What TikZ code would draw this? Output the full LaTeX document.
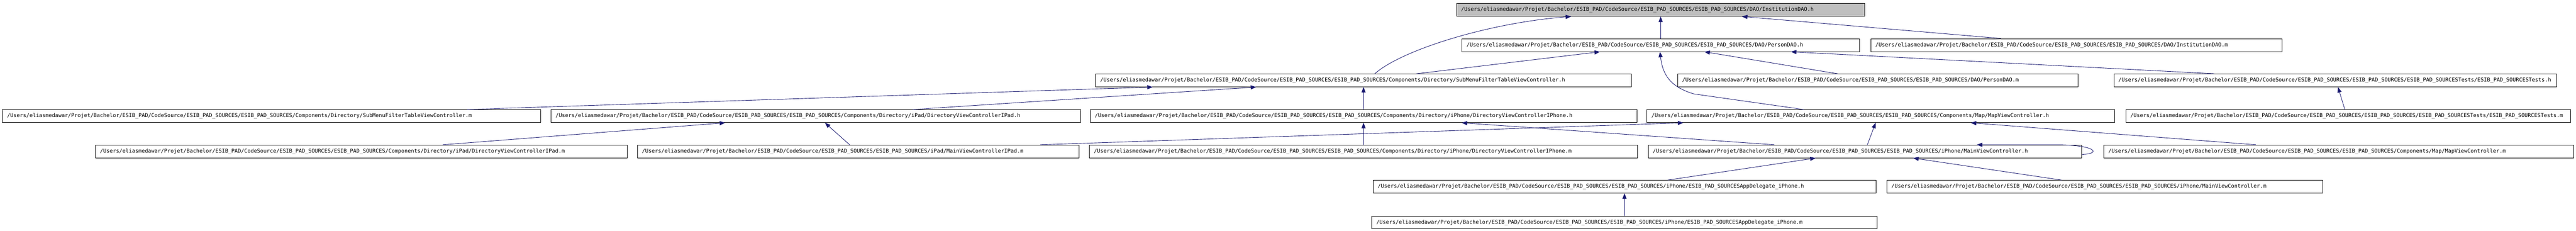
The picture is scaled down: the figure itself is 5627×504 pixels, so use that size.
\documentclass[tikz,border=0pt]{standalone}
\usepackage{fontspec}
\setmonofont{DejaVu Sans Mono}
\usetikzlibrary{arrows.meta}
\definecolor{edgeblue}{HTML}{191970}
\definecolor{focusgray}{HTML}{BFBFBF}
\newcommand\pth{/Users/eliasmedawar/Projet/Bachelor/ESIB\_PAD/CodeSource/ESIB\_PAD\_SOURCES/ESIB\_PAD\_SOURCES/}
\tikzset{
  filebox/.style={draw=black, line width=1pt, anchor=north west, inner xsep=10pt, inner ysep=0pt,
    minimum height=28pt, align=left, font=\ttfamily\fontsize{11.63}{14}\selectfont},
  incl/.style={draw=edgeblue, line width=1pt, -{Triangle[length=12pt,width=9pt]}}
}
\begin{document}
\begin{tikzpicture}[x=1pt,y=-1pt]
\useasboundingbox (0,0) rectangle (5627,504);
% row 1
\node[filebox, fill=focusgray, text width=872pt] (n1) at (3181,7) {\pth DAO/InstitutionDAO.h};
% row 2
\node[filebox, text width=848pt] (n2) at (3193,84) {\pth DAO/PersonDAO.h};
\node[filebox, text width=878pt] (n3) at (4086,84) {\pth DAO/InstitutionDAO.m};
% row 3
\node[filebox, text width=1150pt] (n4) at (2393,161) {\pth Components/Directory/SubMenuFilterTableViewController.h};
\node[filebox, text width=855pt] (n5) at (3664,161) {\pth DAO/PersonDAO.m};
\node[filebox, text width=947pt] (n6) at (4617,161) {\pth ESIB\_PAD\_SOURCESTests/ESIB\_PAD\_SOURCESTests.h};
% row 4
\node[filebox, text width=1155pt] (n7) at (5,239) {\pth Components/Directory/SubMenuFilterTableViewController.m};
\node[filebox, text width=1137pt] (n8) at (1203,239) {\pth Components/Directory/iPad/DirectoryViewControllerIPad.h};
\node[filebox, text width=1174pt] (n9) at (2381,239) {\pth Components/Directory/iPhone/DirectoryViewControllerIPhone.h};
\node[filebox, text width=1002pt] (n10) at (3597,239) {\pth Components/Map/MapViewController.h};
\node[filebox, text width=952pt] (n11) at (4643,239) {\pth ESIB\_PAD\_SOURCESTests/ESIB\_PAD\_SOURCESTests.m};
% row 5
\node[filebox, text width=1142pt] (n12) at (208,316) {\pth Components/Directory/iPad/DirectoryViewControllerIPad.m};
\node[filebox, text width=944pt] (n13) at (1392,316) {\pth iPad/MainViewControllerIPad.m};
\node[filebox, text width=1178pt] (n14) at (2379,316) {\pth Components/Directory/iPhone/DirectoryViewControllerIPhone.m};
\node[filebox, text width=927pt] (n15) at (3600,316) {\pth iPhone/MainViewController.h};
\node[filebox, text width=1006pt] (n16) at (4595,316) {\pth Components/Map/MapViewController.m};
% row 6
\node[filebox, text width=1078pt] (n17) at (2999,393) {\pth iPhone/ESIB\_PAD\_SOURCESAppDelegate\_iPhone.h};
\node[filebox, text width=932pt] (n18) at (4121,393) {\pth iPhone/MainViewController.m};
% row 7
\node[filebox, text width=1084pt] (n19) at (2996,471) {\pth iPhone/ESIB\_PAD\_SOURCESAppDelegate\_iPhone.m};

% edges
\draw[incl] ([xshift=610pt]n4.north west) .. controls (3060,110) and (3250,50) .. ([xshift=251pt]n1.south west);
\draw[incl] (n2.north) -- (n1.south);
\draw[incl] ([xshift=285pt]n3.north west) -- ([xshift=624pt]n1.south west);
\draw[incl] ([xshift=701pt]n4.north west) -- ([xshift=302pt]n2.south west);
\draw[incl] ([xshift=343pt]n10.north west) -- (3700,205) .. controls (3650,190) and (3632,165) .. ([xshift=433pt]n2.south west);
\draw[incl] ([xshift=350pt]n5.north west) -- ([xshift=530pt]n2.south west);
\draw[incl] ([xshift=220pt]n6.north west) -- ([xshift=719pt]n2.south west);
\draw[incl] (n9.north) -- (n4.south);
\draw[incl] ([xshift=791pt]n8.north west) -- ([xshift=351pt]n4.south west);
\draw[incl] ([xshift=1016pt]n7.north west) -- ([xshift=125pt]n4.south west);
\draw[incl] ([xshift=759pt]n12.north west) -- ([xshift=381pt]n8.south west);
\draw[incl] ([xshift=464pt]n13.north west) -- ([xshift=599pt]n8.south west);
\draw[incl] ([xshift=880pt]n13.north west) -- ([xshift=80pt]n10.south west);
\draw[incl] (n14.north) -- (n9.south);
\draw[incl] ([xshift=276pt]n15.north west) -- ([xshift=812pt]n9.south west);
\draw[incl] ([xshift=479pt]n15.north west) -- ([xshift=500pt]n10.south west);
\draw[incl] ([xshift=644pt]n17.north west) -- ([xshift=366pt]n15.south west);
\draw[incl] ([xshift=382pt]n18.north west) -- ([xshift=579pt]n15.south west);
\draw[incl] (n19.north) -- (n17.south);
\draw[incl] ([xshift=333pt]n16.north west) -- ([xshift=708pt]n10.south west);
\draw[incl] ([xshift=479pt]n11.north west) -- ([xshift=490pt]n6.south west);
\draw[incl] ([yshift=-21pt]n15.north east) .. controls (4588,336) and (4582,318) .. ([xshift=-47pt]n15.north east) -- ([xshift=718pt]n15.north west);
\end{tikzpicture}
\end{document}
